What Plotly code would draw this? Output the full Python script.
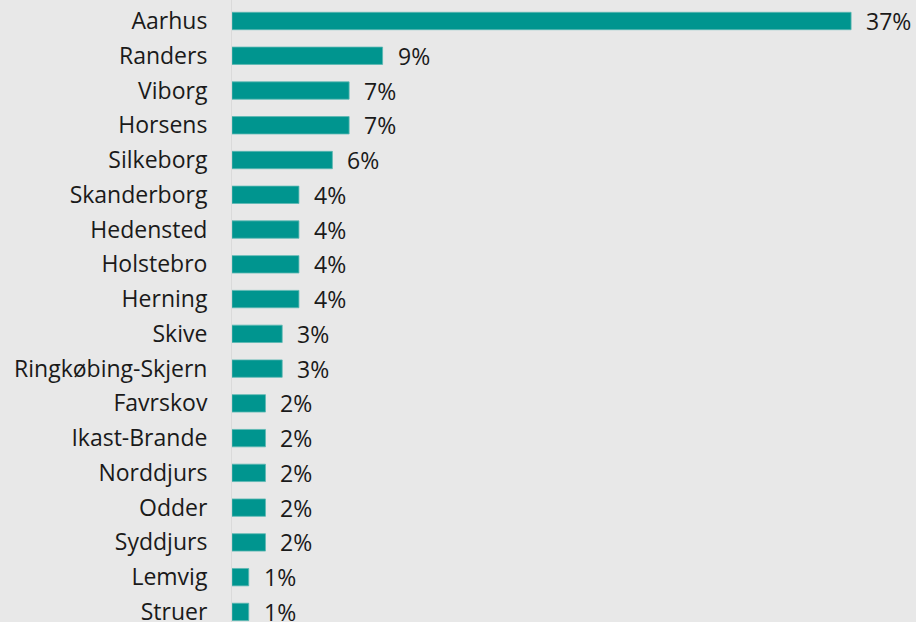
import plotly.graph_objects as go

categories = ["Aarhus", "Randers", "Viborg", "Horsens", "Silkeborg", "Skanderborg",
              "Hedensted", "Holstebro", "Herning", "Skive", "Ringkøbing-Skjern",
              "Favrskov", "Ikast-Brande", "Norddjurs", "Odder", "Syddjurs",
              "Lemvig", "Struer"]
values = [37, 9, 7, 7, 6, 4, 4, 4, 4, 3, 3, 2, 2, 2, 2, 2, 1, 1]
labels = [f"{v}%" for v in values]

BG = "#e8e8e8"
TEAL = "#00958f"
FONT = "Open Sans"
FS = 23

fig = go.Figure()
fig.add_trace(go.Bar(
    x=values, y=categories, orientation="h", width=0.5,
    marker=dict(color=TEAL, line=dict(color="#5cb8b3", width=0.8)),
    hoverinfo="skip",
))
for c, v, t in zip(categories, values, labels):
    fig.add_annotation(x=v, y=c, text=t, showarrow=False, xanchor="left",
                       xshift=13, font=dict(family=FONT, size=FS, color="#1a1a1a"))

fig.update_layout(
    width=916, height=622,
    margin=dict(l=232, r=0, t=0, b=0, autoexpand=False),
    paper_bgcolor=BG, plot_bgcolor=BG,
    showlegend=False,
    bargap=0.5,
)
fig.update_xaxes(range=[0, 40.88], showgrid=False, zeroline=False, showticklabels=False,
                 showline=False, automargin=False)
fig.update_yaxes(type="category", categoryorder="array", categoryarray=categories,
                 range=[17.29, -0.604], showgrid=False, zeroline=False,
                 showline=True, linecolor="#dadada", linewidth=1,
                 ticks="", ticklabelstandoff=19, automargin=False,
                 tickfont=dict(family=FONT, size=FS, color="#1a1a1a"))

fig.write_html("out.html", config={"displayModeBar": False},
               post_script="document.body.style.margin='0';document.body.style.background='#e8e8e8';")
